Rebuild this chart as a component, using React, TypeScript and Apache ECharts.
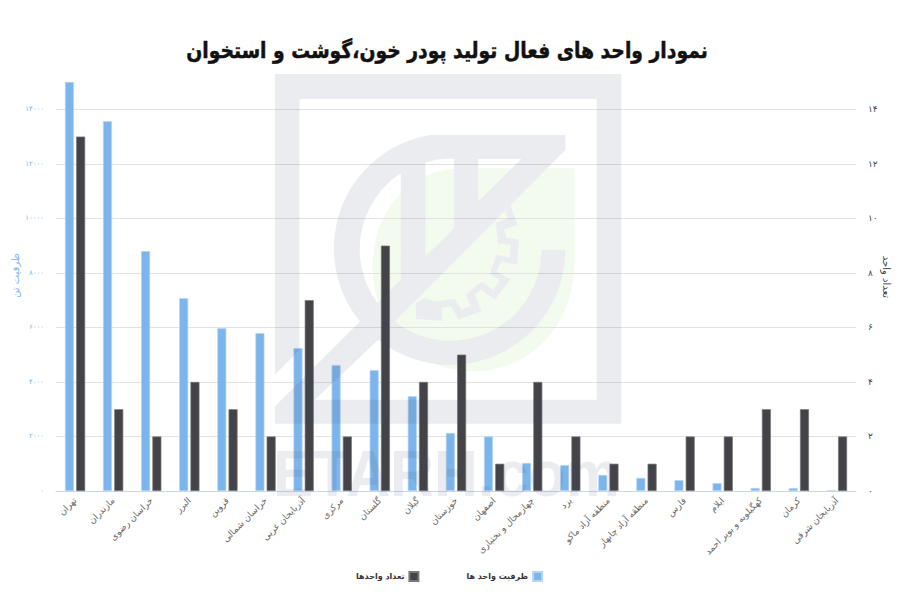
import React, { useEffect, useRef } from "react";
import * as echarts from "echarts";

const titleText = "نمودار واحد های فعال تولید پودر خون،گوشت و استخوان";
const categories = [
  "تهران", "مازندران", "خراسان رضوی", "البرز", "قزوین", "خراسان شمالی", "آذربایجان غربی",
  "مرکزی", "گلستان", "گیلان", "خوزستان", "اصفهان", "چهارمحال و بختیاری", "یزد",
  "منطقه آزاد ماکو", "منطقه آزاد چابهار", "فارس", "ایلام", "کهگیلویه و بویر احمد", "کرمان", "آذربایجان شرقی",
];
const capacity = [15000, 13560, 8800, 7070, 5970, 5790, 5240, 4620, 4430, 3480, 2130, 2000, 1030, 950, 590, 480, 400, 290, 110, 110, 20];
const units = [13, 3, 2, 4, 3, 2, 7, 2, 9, 4, 5, 1, 4, 2, 1, 1, 2, 2, 3, 3, 2];
const capacityName = "ظرفیت واحد ها";
const unitsName = "تعداد واحدها";
const leftAxisName = "ظرفیت تن";
const rightAxisName = "تعداد واحد";

const FONT = "'DejaVu Sans', sans-serif";
const persian = (v: number) => String(v).replace(/\d/g, (d) => "۰۱۲۳۴۵۶۷۸۹"[Number(d)]);

const LOGO =
  "M510 225 H917 V270 L405 785 A272 272 0 0 0 845 570 H917 A346 346 0 0 1 355 840 L165 1020 H1011 V117 H119 V870 L45 945 V42 H1085 V1092 H45 V1040 L300 785 A346 346 0 0 1 510 225 Z " +
  "M423 340 A272 272 0 0 0 353 730 L423 660 Z " +
  "M583 297 A272 272 0 0 0 497 307 V590 L583 505 Z " +
  "M785 297 H655 V425 Z " +
  "M752 435 L773 495 L733 508 L740 535 L778 538 L772 615 L725 605 L710 635 L752 658 L705 720 L665 690 L645 705 L665 755 L595 780 L575 740 L545 745 L548 783 L468 778 L468 730 L495 715 L525 725 L585 718 L605 750 L633 738 L618 705 L665 665 L700 690 L720 660 L690 642 L710 585 L750 593 L753 555 L715 550 L708 488 L745 475 L735 455 Z";
const SHIELD = "M945 325 H600 C450 330 338 450 338 620 C338 800 470 935 640 935 C820 935 945 790 945 600 Z";
echarts.graphic.registerShape("wmLogo", echarts.graphic.extendPath(LOGO, {}));
echarts.graphic.registerShape("wmShield", echarts.graphic.extendPath(SHIELD, {}));

export default function App() {
  const ref = useRef<HTMLDivElement>(null);
  useEffect(() => {
    const chart = echarts.init(ref.current!, undefined, { renderer: "svg" });
    chart.setOption({
      animation: false,
      backgroundColor: "#ffffff",
      legend: {
        left: 356,
        top: 571,
        padding: 0,
        align: "right",
        icon: "rect",
        itemWidth: 9,
        itemHeight: 9,
        itemGap: 47,
        data: [unitsName, capacityName],
        textStyle: { fontFamily: FONT, fontSize: 8, fontWeight: "bold", color: "#333333" },
      },
      grid: { left: 56, right: 44, top: 82, bottom: 109, outerBoundsMode: "none" },
      xAxis: {
        type: "category",
        data: categories,
        axisLine: { lineStyle: { color: "#ccd6eb", width: 1 } },
        axisTick: { length: 9, lineStyle: { color: "#ccd6eb" } },
        axisLabel: { rotate: 45, interval: 0, margin: 8, fontFamily: FONT, fontSize: 9, color: "#666666" },
      },
      yAxis: [
        {
          type: "value",
          min: 0,
          max: 15000,
          interval: 2000,
          name: leftAxisName,
          nameLocation: "middle",
          nameGap: 36,
          nameMoveOverlap: false,
          nameRotate: 90,
          nameTextStyle: { fontFamily: FONT, fontSize: 10, color: "#7cb5ec", padding: [0, 0, 0, 22] },
          axisLine: { show: false },
          axisTick: { show: false },
          splitLine: { show: true, showMaxLine: false, lineStyle: { color: "#e2e2e2", width: 1.2 } },
          axisLabel: { margin: 12, showMaxLabel: false, fontFamily: FONT, fontSize: 7, color: "#7cb5ec", formatter: (v: number) => persian(v) },
        },
        {
          type: "value",
          min: 0,
          max: 15,
          interval: 2,
          name: rightAxisName,
          nameLocation: "middle",
          nameGap: 25,
          nameMoveOverlap: false,
          nameRotate: -90,
          nameTextStyle: { fontFamily: FONT, fontSize: 10, color: "#434348", padding: [0, 19, 0, 0] },
          axisLine: { show: false },
          axisTick: { show: false },
          splitLine: { show: false },
          axisLabel: { margin: 12, showMaxLabel: false, fontFamily: FONT, fontSize: 9, color: "#434348", formatter: (v: number) => persian(v) },
        },
      ],
      series: [
        { name: capacityName, type: "bar", yAxisIndex: 0, data: capacity, barWidth: 9, barGap: "25%", itemStyle: { color: "#7cb5ec", borderColor: "#b5d5f5", borderWidth: 0.7 } },
        { name: unitsName, type: "bar", yAxisIndex: 1, data: units, barWidth: 9, barGap: "25%", itemStyle: { color: "#434348", borderColor: "#77777b", borderWidth: 0.7 } },
      ],
      graphic: [
        { type: "wmShield", x: 260, y: 60, scaleX: 1 / 3, scaleY: 1 / 3, silent: true, z: -2, style: { fill: "#f3fbef" } },
        { type: "wmLogo", x: 260, y: 60, scaleX: 1 / 3, scaleY: 1 / 3, silent: true, z: -1, style: { fill: "#ffffff" } },
        { type: "wmLogo", x: 260, y: 60, scaleX: 1 / 3, scaleY: 1 / 3, silent: true, z: 51, style: { fill: "rgba(70,80,100,0.105)" } },
        {
          type: "text", x: 273, y: 441, silent: true, z: 51, scaleX: 0.95,
          style: { text: "ETARH.com", fontFamily: "'Liberation Sans', sans-serif", fontSize: 64, fontWeight: "bold", fill: "rgba(70,80,100,0.105)" },
        },
        {
          type: "text", x: 447, y: 50, scaleX: 0.854, silent: true, z: 60,
          style: { text: titleText, x: 0, y: 0, align: "center", verticalAlign: "middle", fontFamily: FONT, fontSize: 22, fontWeight: "bold", fill: "#111111", stroke: "#111111", lineWidth: 0.5 },
        },
      ],
    });
    return () => chart.dispose();
  }, []);
  return <div ref={ref} style={{ position: "absolute", left: 0, top: 0, width: 900, height: 600 }} />;
}
